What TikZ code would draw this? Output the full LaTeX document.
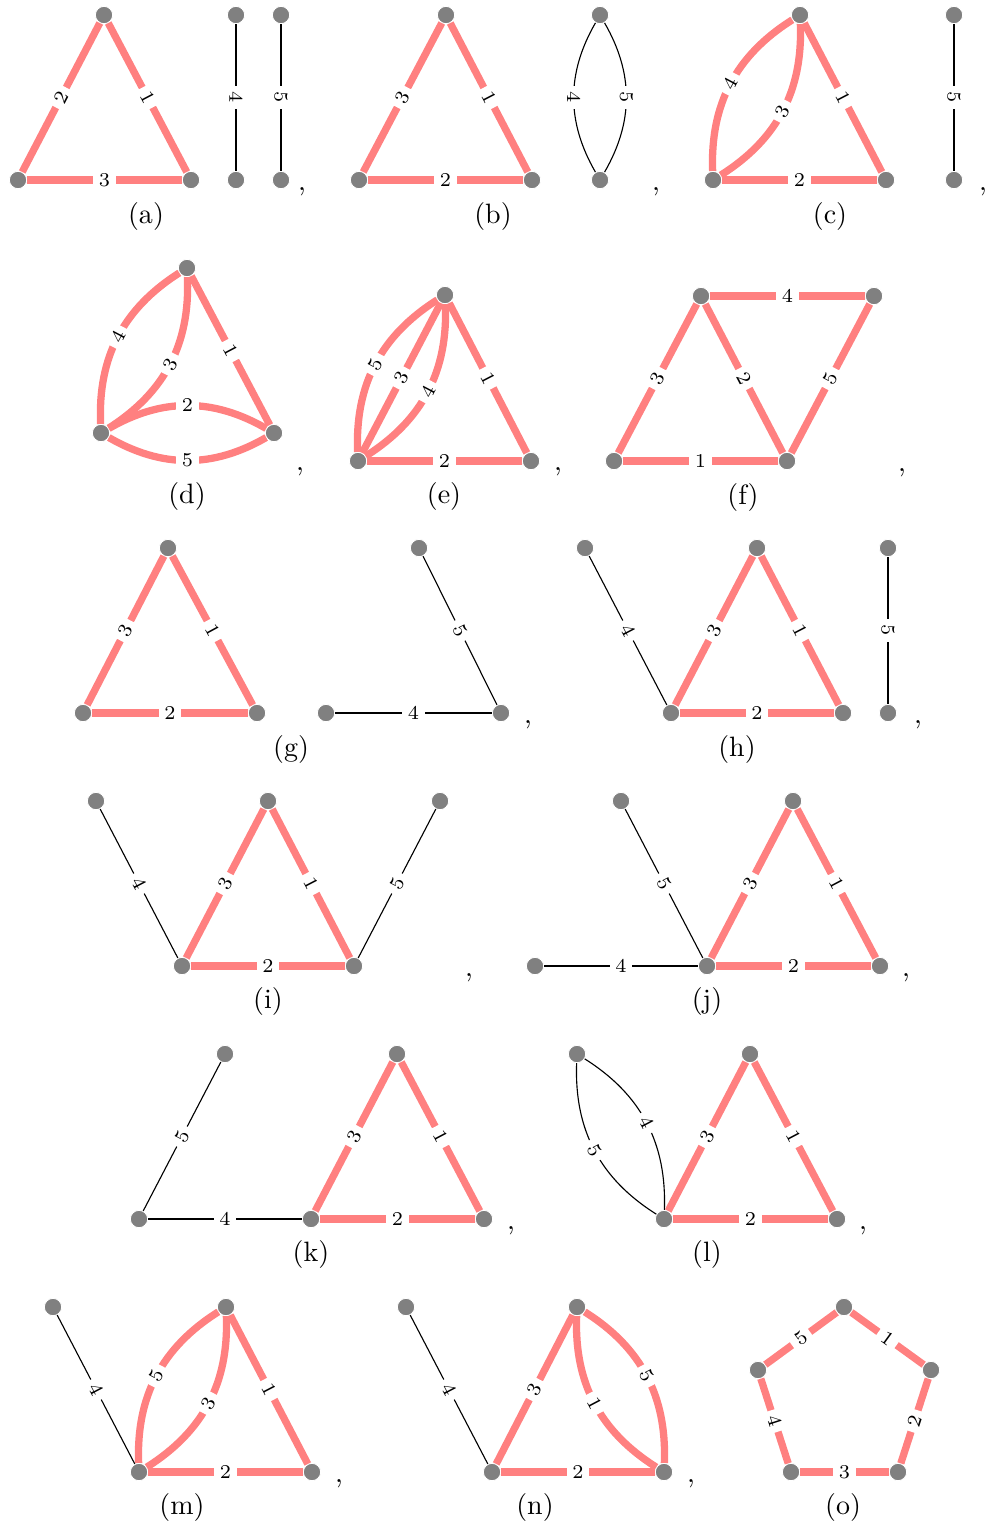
\documentclass[tikz,border=0pt]{standalone}
\usepackage{xcolor}
\usepackage{tikz}

\begin{document}
\begin{tikzpicture}[x=0.3571pt, y=0.3571pt,
      vtx/.style={circle, fill=gray, draw=white, line width=0.3pt,
                  minimum size=6.2pt, inner sep=0pt},
      hl/.style={draw=red!50, line width=2.6pt},
      pl/.style={draw=black, line width=0.4pt},
      lab/.style={fill=white, inner sep=2pt, font=\scriptsize, sloped},
      sub/.style={font=\normalsize}
  ]
    \useasboundingbox (0,0) rectangle (989,-1524);

    \node[vtx] (a1) at (104,-15) {};  \node[vtx] (a2) at (18,-180) {};
    \node[vtx] (a3) at (191,-180) {}; \node[vtx] (a4) at (236,-15) {};
    \node[vtx] (a5) at (236,-180) {}; \node[vtx] (a6) at (281,-15) {};
    \node[vtx] (a7) at (281,-180) {};
    \draw[hl] (a2) -- node[lab] {2} (a1); \draw[hl] (a1) -- node[lab] {1} (a3);
    \draw[hl] (a2) -- node[lab] {3} (a3);
    \draw[pl] (a4) -- node[lab] {4} (a5); \draw[pl] (a6) -- node[lab] {5} (a7);
    \node at (302,-192) {,}; \node[sub] at (146,-216) {(a)};

    \node[vtx] (b1) at (446,-15) {};  \node[vtx] (b2) at (359,-180) {};
    \node[vtx] (b3) at (532,-180) {}; \node[vtx] (b4) at (600,-15) {};
    \node[vtx] (b5) at (600,-180) {};
    \draw[hl] (b2) -- node[lab] {3} (b1); \draw[hl] (b1) -- node[lab] {1} (b3);
    \draw[hl] (b2) -- node[lab] {2} (b3);
    \draw[pl] (b4) to[bend right=30] node[lab] {4} (b5);
    \draw[pl] (b4) to[bend left=30] node[lab] {5} (b5);
    \node at (656,-192) {,}; \node[sub] at (493,-216) {(b)};

    \node[vtx] (c1) at (800,-15) {};  \node[vtx] (c2) at (713,-180) {};
    \node[vtx] (c3) at (886,-180) {}; \node[vtx] (c4) at (954,-15) {};
    \node[vtx] (c5) at (954,-180) {};
    \draw[hl] (c2) to[bend left=30] node[lab] {4} (c1);
    \draw[hl] (c2) to[bend right=30] node[lab] {3} (c1);
    \draw[hl] (c1) -- node[lab] {1} (c3); \draw[hl] (c2) -- node[lab] {2} (c3);
    \draw[pl] (c4) -- node[lab] {5} (c5);
    \node at (983,-192) {,}; \node[sub] at (830,-216) {(c)};

    \node[vtx] (d1) at (187,-268) {}; \node[vtx] (d2) at (101,-433) {};
    \node[vtx] (d3) at (274,-433) {};
    \draw[hl] (d2) to[bend left=30] node[lab] {4} (d1);
    \draw[hl] (d2) to[bend right=30] node[lab] {3} (d1);
    \draw[hl] (d1) -- node[lab] {1} (d3);
    \draw[hl] (d2) to[bend left=30] node[lab] {2} (d3);
    \draw[hl] (d2) to[bend right=30] node[lab] {5} (d3);
    \node at (300,-472) {,}; \node[sub] at (187,-496) {(d)};

    \node[vtx] (e1) at (445,-295) {}; \node[vtx] (e2) at (358,-461) {};
    \node[vtx] (e3) at (531,-461) {};
    \draw[hl] (e2) to[bend left=30] node[lab] {5} (e1);
    \draw[hl] (e2) -- node[lab] {3} (e1);
    \draw[hl] (e2) to[bend right=30] node[lab] {4} (e1);
    \draw[hl] (e1) -- node[lab] {1} (e3); \draw[hl] (e2) -- node[lab] {2} (e3);
    \node at (558,-472) {,}; \node[sub] at (444,-496) {(e)};

    \node[vtx] (f1) at (701,-296) {}; \node[vtx] (f2) at (874,-296) {};
    \node[vtx] (f3) at (614,-461) {}; \node[vtx] (f4) at (787,-461) {};
    \draw[hl] (f1) -- node[lab] {4} (f2); \draw[hl] (f3) -- node[lab] {3} (f1);
    \draw[hl] (f1) -- node[lab] {2} (f4); \draw[hl] (f4) -- node[lab] {5} (f2);
    \draw[hl] (f3) -- node[lab] {1} (f4);
    \node at (902,-473) {,}; \node[sub] at (743,-497) {(f)};

    \node[vtx] (g1) at (168,-548) {}; \node[vtx] (g2) at (83,-713) {};
    \node[vtx] (g3) at (257,-713) {}; \node[vtx] (g4) at (419,-548) {};
    \node[vtx] (g5) at (326,-713) {}; \node[vtx] (g6) at (501,-713) {};
    \draw[hl] (g2) -- node[lab] {3} (g1); \draw[hl] (g1) -- node[lab] {1} (g3);
    \draw[hl] (g2) -- node[lab] {2} (g3);
    \draw[pl] (g4) -- node[lab] {5} (g6); \draw[pl] (g5) -- node[lab] {4} (g6);
    \node at (528,-725) {,}; \node[sub] at (291,-749) {(g)};

    \node[vtx] (h1) at (585,-548) {}; \node[vtx] (h2) at (671,-713) {};
    \node[vtx] (h3) at (757,-548) {}; \node[vtx] (h4) at (843,-713) {};
    \node[vtx] (h5) at (888,-548) {}; \node[vtx] (h6) at (888,-713) {};
    \draw[pl] (h1) -- node[lab] {4} (h2);
    \draw[hl] (h2) -- node[lab] {3} (h3); \draw[hl] (h3) -- node[lab] {1} (h4);
    \draw[hl] (h2) -- node[lab] {2} (h4);
    \draw[pl] (h5) -- node[lab] {5} (h6);
    \node at (918,-725) {,}; \node[sub] at (737,-749) {(h)};

    \node[vtx] (i1) at (96,-801) {};  \node[vtx] (i2) at (182,-966) {};
    \node[vtx] (i3) at (268,-801) {}; \node[vtx] (i4) at (354,-966) {};
    \node[vtx] (i5) at (440,-801) {};
    \draw[pl] (i1) -- node[lab] {4} (i2);
    \draw[hl] (i2) -- node[lab] {3} (i3); \draw[hl] (i3) -- node[lab] {1} (i4);
    \draw[hl] (i2) -- node[lab] {2} (i4);
    \draw[pl] (i4) -- node[lab] {5} (i5);
    \node at (469,-978) {,}; \node[sub] at (268,-1001) {(i)};

    \node[vtx] (j1) at (621,-801) {}; \node[vtx] (j2) at (535,-966) {};
    \node[vtx] (j3) at (707,-966) {}; \node[vtx] (j4) at (793,-801) {};
    \node[vtx] (j5) at (880,-966) {};
    \draw[pl] (j1) -- node[lab] {5} (j3); \draw[pl] (j2) -- node[lab] {4} (j3);
    \draw[hl] (j3) -- node[lab] {3} (j4); \draw[hl] (j4) -- node[lab] {1} (j5);
    \draw[hl] (j3) -- node[lab] {2} (j5);
    \node at (906,-978) {,}; \node[sub] at (707,-1001) {(j)};

    \node[vtx] (k1) at (225,-1054) {}; \node[vtx] (k2) at (139,-1219) {};
    \node[vtx] (k3) at (311,-1219) {}; \node[vtx] (k4) at (397,-1054) {};
    \node[vtx] (k5) at (484,-1219) {};
    \draw[pl] (k2) -- node[lab] {5} (k1); \draw[pl] (k2) -- node[lab] {4} (k3);
    \draw[hl] (k3) -- node[lab] {3} (k4); \draw[hl] (k4) -- node[lab] {1} (k5);
    \draw[hl] (k3) -- node[lab] {2} (k5);
    \node at (511,-1231) {,}; \node[sub] at (311,-1254) {(k)};

    \node[vtx] (l1) at (577,-1054) {}; \node[vtx] (l2) at (664,-1219) {};
    \node[vtx] (l3) at (750,-1054) {}; \node[vtx] (l4) at (837,-1219) {};
    \draw[pl] (l2) to[bend right=30] node[lab] {4} (l1);
    \draw[pl] (l2) to[bend left=30] node[lab] {5} (l1);
    \draw[hl] (l2) -- node[lab] {3} (l3); \draw[hl] (l3) -- node[lab] {1} (l4);
    \draw[hl] (l2) -- node[lab] {2} (l4);
    \node at (863,-1231) {,}; \node[sub] at (707,-1254) {(l)};

    \node[vtx] (m1) at (53,-1307) {};  \node[vtx] (m2) at (139,-1472) {};
    \node[vtx] (m3) at (226,-1307) {}; \node[vtx] (m4) at (312,-1472) {};
    \draw[pl] (m1) -- node[lab] {4} (m2);
    \draw[hl] (m2) to[bend left=30] node[lab] {5} (m3);
    \draw[hl] (m2) to[bend right=30] node[lab] {3} (m3);
    \draw[hl] (m3) -- node[lab] {1} (m4); \draw[hl] (m2) -- node[lab] {2} (m4);
    \node at (339,-1484) {,}; \node[sub] at (182,-1507) {(m)};

    \node[vtx] (n1) at (406,-1307) {}; \node[vtx] (n2) at (492,-1472) {};
    \node[vtx] (n3) at (577,-1307) {}; \node[vtx] (n4) at (664,-1472) {};
    \draw[pl] (n1) -- node[lab] {4} (n2);
    \draw[hl] (n2) -- node[lab] {3} (n3);
    \draw[hl] (n3) to[bend right=30] node[lab] {1} (n4);
    \draw[hl] (n3) to[bend left=30] node[lab] {5} (n4);
    \draw[hl] (n2) -- node[lab] {2} (n4);
    \node at (691,-1484) {,}; \node[sub] at (535,-1507) {(n)};

    \node[vtx] (o1) at (844,-1307) {}; \node[vtx] (o2) at (931,-1370) {};
    \node[vtx] (o3) at (898,-1472) {}; \node[vtx] (o4) at (791,-1472) {};
    \node[vtx] (o5) at (758,-1370) {};
    \draw[hl] (o1) -- node[lab] {1} (o2); \draw[hl] (o2) -- node[lab] {2} (o3);
    \draw[hl] (o3) -- node[lab] {3} (o4); \draw[hl] (o4) -- node[lab] {4} (o5);
    \draw[hl] (o5) -- node[lab] {5} (o1);
    \node[sub] at (843,-1507) {(o)};
  \end{tikzpicture}
\end{document}
